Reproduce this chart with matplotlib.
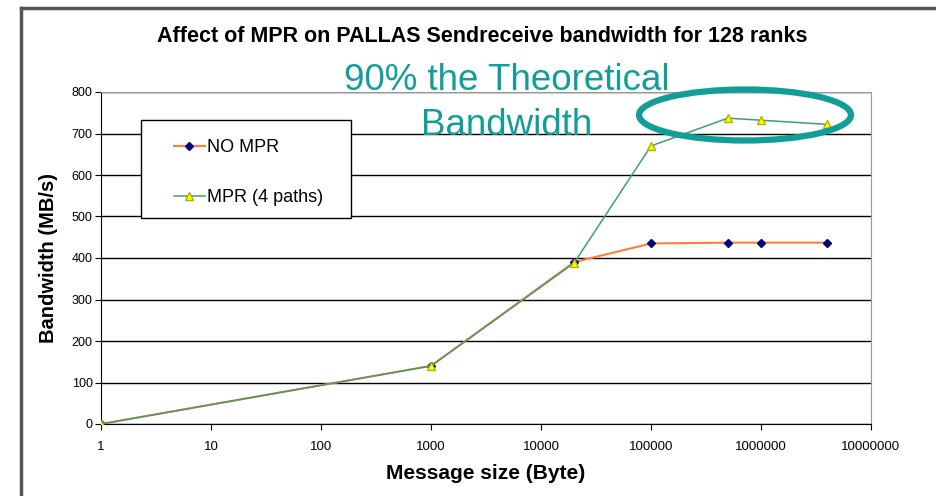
import matplotlib.pyplot as plt
from matplotlib.patches import Ellipse, Rectangle
from matplotlib.lines import Line2D

plt.rcParams['font.family'] = ['Liberation Sans', 'DejaVu Sans']

sizes_no_mpr = [1, 1000, 20000, 100000, 500000, 1000000, 4000000]
bw_no_mpr = [0, 140, 390, 435, 437, 437, 437]
sizes_mpr = [1, 1000, 20000, 100000, 500000, 1000000, 4000000]
bw_mpr = [0, 140, 388, 670, 737, 732, 722]

xtick_vals = [1, 10, 100, 1000, 10000, 100000, 1000000, 10000000]
xtick_labels = ['1', '10', '100', '1000', '10000', '100000', '1000000', '10000000']
ytick_vals = [0, 100, 200, 300, 400, 500, 600, 700, 800]

W, H = 936, 496
fig = plt.figure(figsize=(W / 100, H / 100), dpi=100)
ax = fig.add_axes([101 / W, 1 - 424 / H, (871 - 101) / W, (424 - 92) / H])

ax.plot(sizes_no_mpr, bw_no_mpr, color='#ff7f3a', lw=1.5, marker='D',
        markersize=4.5, markerfacecolor='#000080', markeredgecolor='#000080',
        label='NO MPR', zorder=3)
ax.plot(sizes_mpr, bw_mpr, color='#3f9f70', lw=1.1, marker='^',
        markersize=6, markerfacecolor='#ffff00', markeredgecolor='#b0b000',
        label='MPR (4 paths)', zorder=4)

ax.set_xscale('log')
ax.set_xlim(1, 10000000)
ax.set_ylim(0, 800)
ax.set_xticks(xtick_vals)
ax.set_xticklabels(xtick_labels)
ax.minorticks_off()
ax.set_yticks(ytick_vals)
ax.yaxis.grid(True, color='black', lw=1)
ax.set_axisbelow(True)
ax.tick_params(axis='both', labelsize=9, length=4, direction='out')
ax.tick_params(axis='x', labelsize=9.5, pad=8)
ax.tick_params(axis='y', pad=2)
for s in ['top', 'right']:
    ax.spines[s].set_color('#999999')
for s in ['left', 'bottom']:
    ax.spines[s].set_color('black')

ax.set_xlabel('Message size (Byte)', fontsize=15, fontweight='bold', labelpad=8)
ax.set_ylabel('Bandwidth (MB/s)', fontsize=14.5, fontweight='bold', labelpad=10)

fig.text(482 / W, 1 - 37 / H, 'Affect of MPR on PALLAS Sendreceive bandwidth for 128 ranks',
         ha='center', va='center', fontsize=15.5, fontweight='bold')

# legend box drawn separately, entries via legend without frame
box = Rectangle((141 / W, 1 - 218 / H), 210 / W, 98 / H, transform=fig.transFigure,
                facecolor='white', edgecolor='black', lw=1, zorder=5, clip_on=False)
ax.add_patch(box)
leg = ax.legend(loc='upper left', bbox_to_anchor=(174 / W, 1 - 139 / H),
                bbox_transform=fig.transFigure, frameon=False,
                fontsize=13, handlelength=1.7, labelspacing=1.82, borderpad=0,
                borderaxespad=0, handletextpad=0.15)
leg.set_zorder(10)

# annotation
fig.text(507 / W, 1 - 103 / H, '90% the Theoretical\nBandwidth', ha='center', va='center',
         fontsize=26.5, color='#119e99', linespacing=1.35)
ell = Ellipse((745 / W, 1 - 115 / H), 212 / W, 51 / H, transform=fig.transFigure,
              fill=False, edgecolor='#119e99', lw=4.5)
fig.add_artist(ell)

# slide border
fig.add_artist(Line2D([21 / W, 1], [1 - 8 / H, 1 - 8 / H], color='#555555', lw=2.5,
                      transform=fig.transFigure))
fig.add_artist(Line2D([21 / W, 21 / W], [1 - 8 / H, 0], color='#555555', lw=2.5,
                      transform=fig.transFigure))

fig.savefig('out.png', dpi=100)
